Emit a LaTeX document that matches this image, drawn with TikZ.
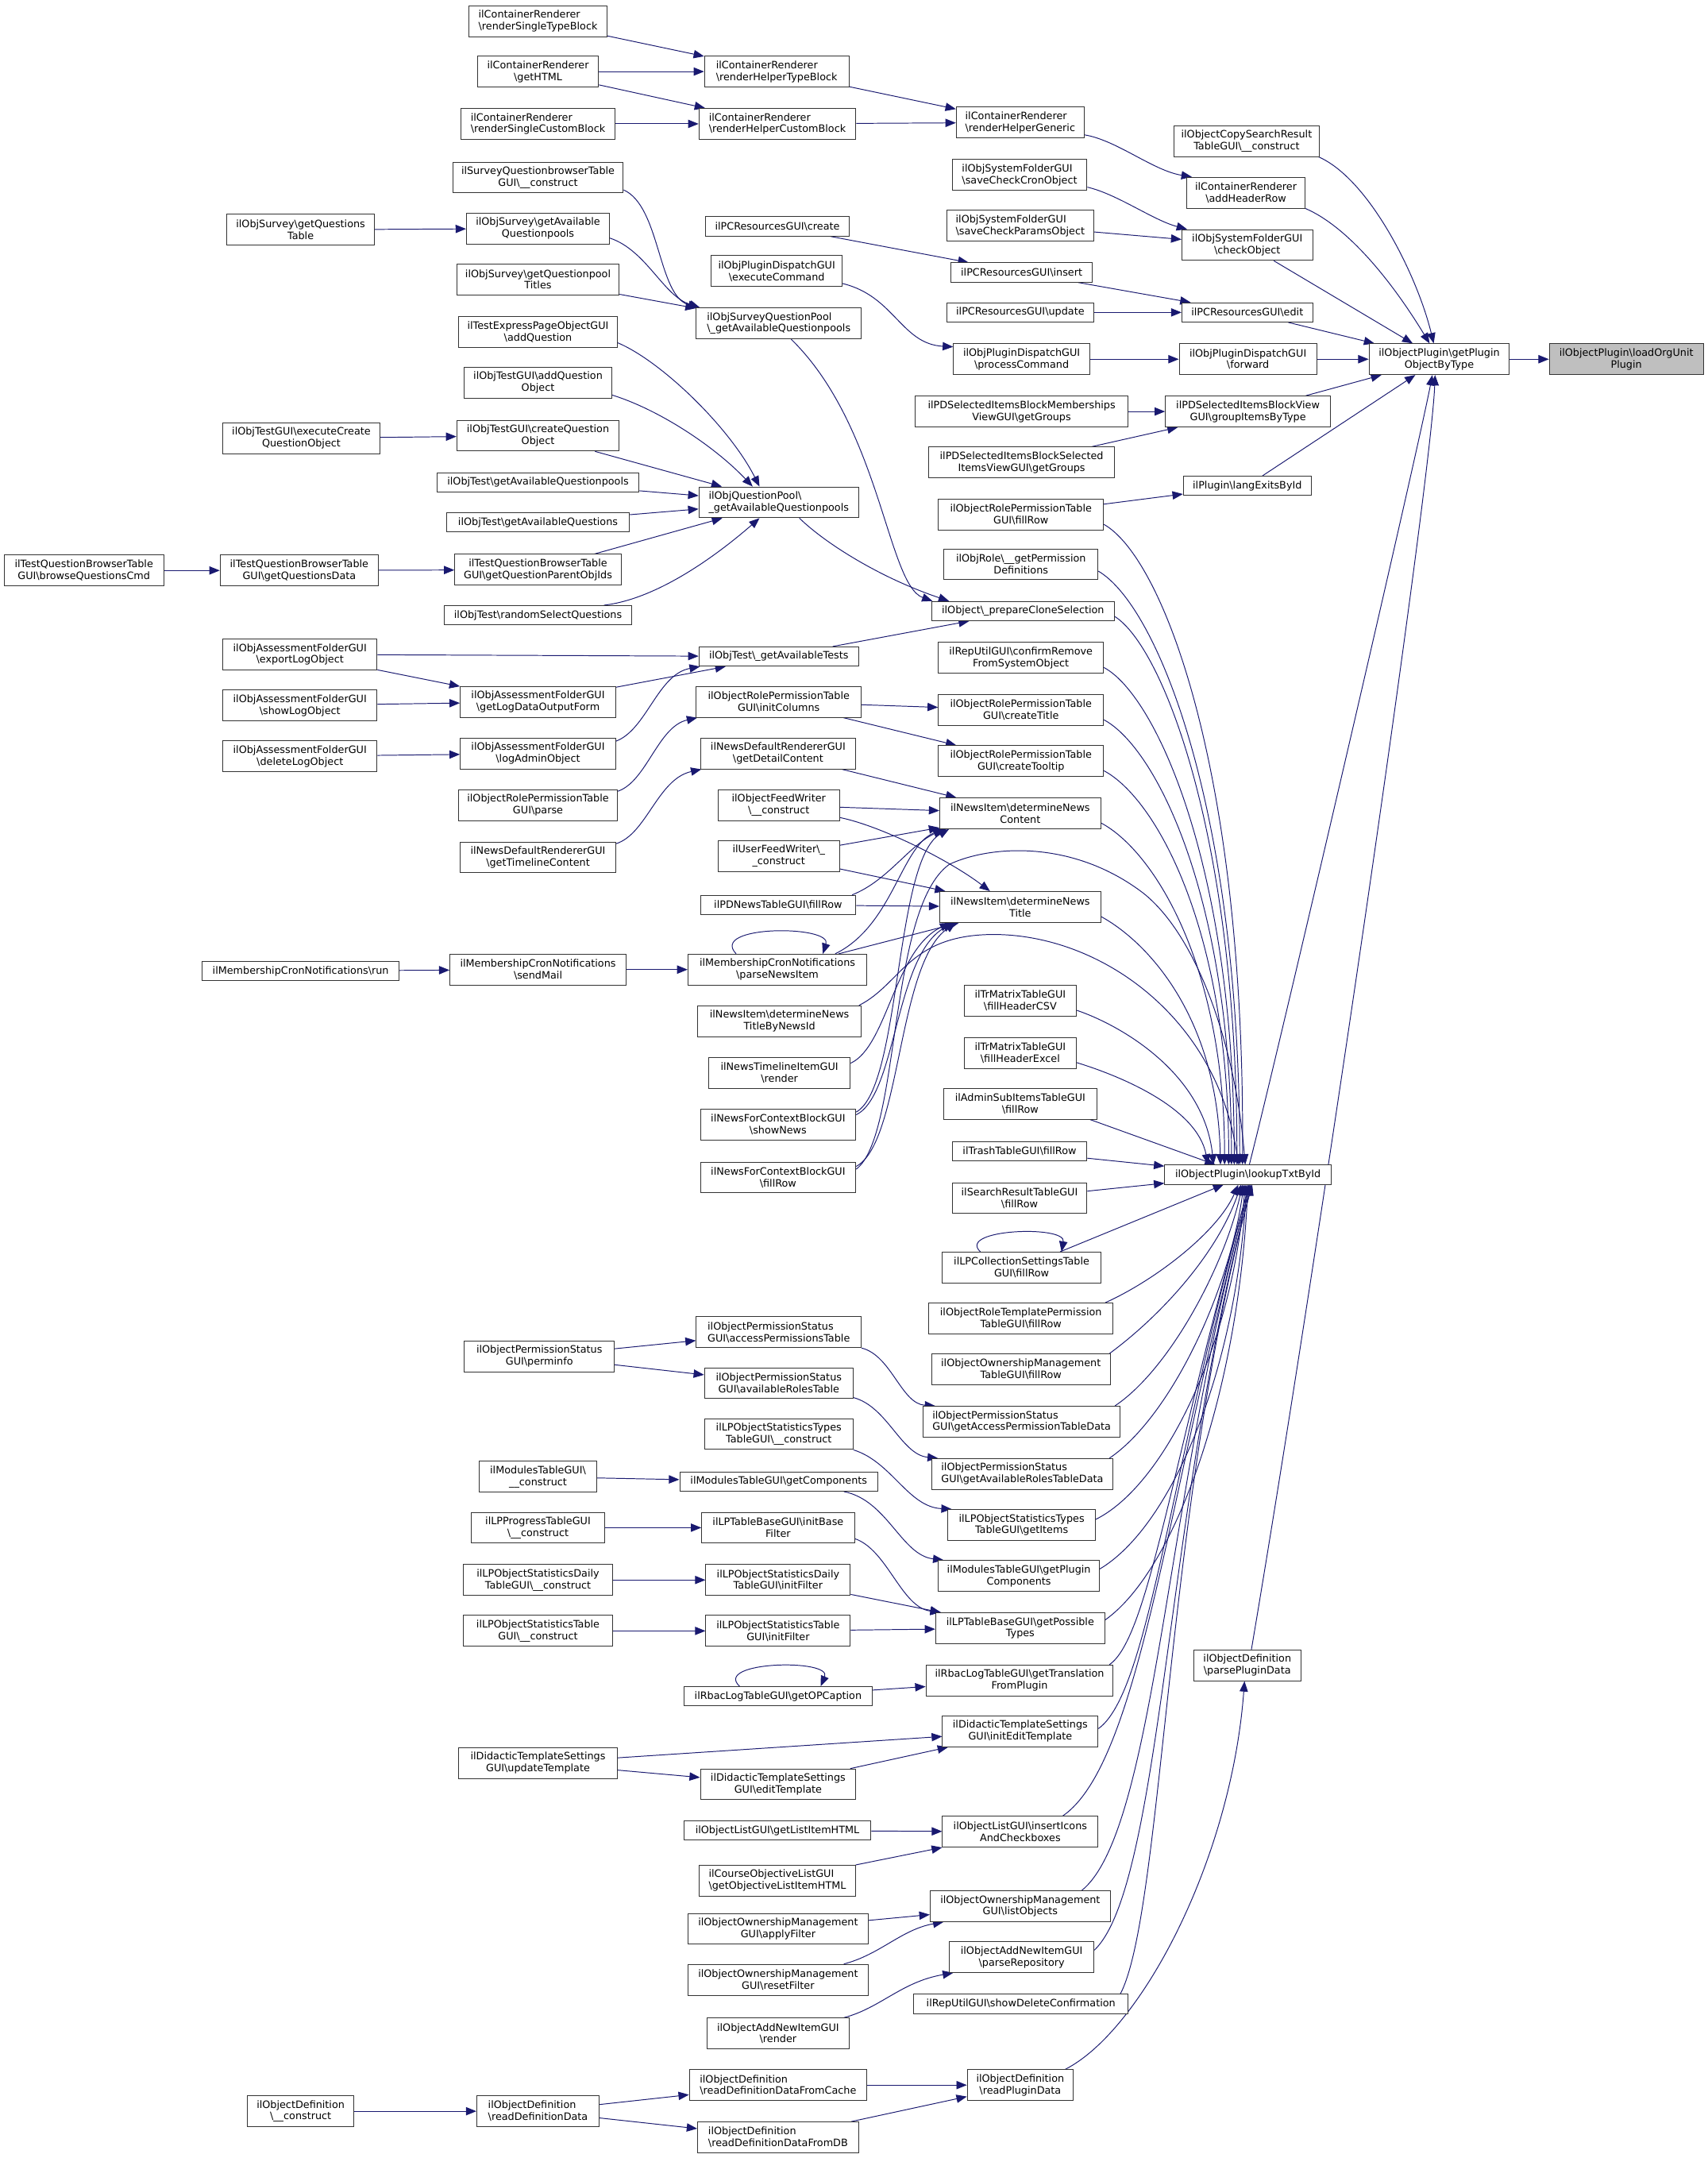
\documentclass[tikz,border=0pt]{standalone}
\usepackage{fontspec}
\usetikzlibrary{arrows.meta,calc,backgrounds}
\newfontfamily\doxfamily{DejaVu Sans}
\newcommand{\bsl}{\textbackslash}
\newcommand{\doxfont}{\doxfamily\fontsize{10.5pt}{12.2pt}\selectfont}
\definecolor{navy}{HTML}{191970}

\begin{document}
\begin{tikzpicture}[x=0.05cm, y=-0.05cm,
    fn/.style={draw=black!80, line width=0.8pt, fill=white, inner sep=0pt, align=center, minimum height=1.12cm, font=\doxfont},
    one/.style={minimum height=0.7cm},
    lft/.style={align=left},
    wd/.style={minimum width=#1*0.05cm},
    focus/.style={fill=black!25},
    calls/.style={draw=navy, line width=0.8pt, -{Triangle[length=0.38cm, width=0.3cm]}}
]
% target and its caller
\node[fn, wd=112, focus] (lou) at (1182,261) {ilObjectPlugin\bsl loadOrgUnit\\Plugin};
\node[fn, wd=102] (gpo) at (1046,261) {ilObjectPlugin\bsl getPlugin\\ObjectByType};

% callers of getPluginObjectByType
\node[fn, wd=106] (ocsConstruct) at (906,102.5) {ilObjectCopySearchResult\\TableGUI\bsl\_\_construct};
\node[fn, wd=86] (crAddHeader) at (905.5,140) {ilContainerRenderer\\\bsl addHeaderRow};
\node[fn, wd=95] (sfCheck) at (906.5,178) {ilObjSystemFolderGUI\\\bsl checkObject};
\node[fn, one, wd=95] (pcrEdit) at (906.5,227) {ilPCResourcesGUI\bsl edit};
\node[fn, wd=100] (pdForward) at (907,261) {ilObjPluginDispatchGUI\\\bsl forward};
\node[fn, wd=120] (pdGroupItems) at (907,299) {ilPDSelectedItemsBlockView\\GUI\bsl groupItemsByType};
\node[fn, one, wd=93] (plLangExists) at (906.5,353) {ilPlugin\bsl langExitsById};
\node[fn, one, wd=121] (lt) at (907,853.5) {ilObjectPlugin\bsl lookupTxtById};
\node[fn, wd=78] (odParsePlugin) at (906.5,1210) {ilObjectDefinition\\\bsl parsePluginData};

% fourth column
\node[fn, lft, wd=93] (crHelperGeneric) at (741.5,89) {ilContainerRenderer\\\bsl renderHelperGeneric};
\node[fn, lft, wd=98] (sfCron) at (741,127) {ilObjSystemFolderGUI\\\bsl saveCheckCronObject};
\node[fn, lft, wd=107] (sfParams) at (741.5,164) {ilObjSystemFolderGUI\\\bsl saveCheckParamsObject};
\node[fn, one, wd=103] (pcrInsert) at (742.5,198) {ilPCResourcesGUI\bsl insert};
\node[fn, one, wd=107] (pcrUpdate) at (741.5,227) {ilPCResourcesGUI\bsl update};
\node[fn, wd=99] (pdProcess) at (742.5,261) {ilObjPluginDispatchGUI\\\bsl processCommand};
\node[fn, wd=155] (pdMemberships) at (742.5,299) {ilPDSelectedItemsBlockMemberships\\ViewGUI\bsl getGroups};
\node[fn, wd=135] (pdSelected) at (742.5,336) {ilPDSelectedItemsBlockSelected\\ItemsViewGUI\bsl getGroups};
\node[fn, wd=120] (rptFillRow) at (742,374) {ilObjectRolePermissionTable\\GUI\bsl fillRow};
\node[fn, wd=112] (orPermDefs) at (742,410) {ilObjRole\bsl\_\_getPermission\\Definitions};
\node[fn, one, wd=133] (oClone) at (743.5,444) {ilObject\bsl\_prepareCloneSelection};
\node[fn, wd=120] (ruConfirm) at (742,478) {ilRepUtilGUI\bsl confirmRemove\\FromSystemObject};
\node[fn, wd=120] (rptTitle) at (742,516) {ilObjectRolePermissionTable\\GUI\bsl createTitle};
\node[fn, wd=120] (rptTooltip) at (742,553) {ilObjectRolePermissionTable\\GUI\bsl createTooltip};
\node[fn, wd=117] (niContent) at (741.5,591) {ilNewsItem\bsl determineNews\\Content};
\node[fn, wd=117] (niTitle) at (741.5,659) {ilNewsItem\bsl determineNews\\Title};
\node[fn, wd=81] (tmCSV) at (741.5,727) {ilTrMatrixTableGUI\\\bsl fillHeaderCSV};
\node[fn, wd=81] (tmExcel) at (741.5,765) {ilTrMatrixTableGUI\\\bsl fillHeaderExcel};
\node[fn, wd=111] (asiFillRow) at (741.5,802) {ilAdminSubItemsTableGUI\\\bsl fillRow};
\node[fn, one, wd=98] (trFillRow) at (741,836.5) {ilTrashTableGUI\bsl fillRow};
\node[fn, wd=98] (srFillRow) at (741,870.5) {ilSearchResultTableGUI\\\bsl fillRow};
\node[fn, wd=115] (lpcFillRow) at (742.5,921) {ilLPCollectionSettingsTable\\GUI\bsl fillRow};
\node[fn, wd=134] (rtpFillRow) at (742,958) {ilObjectRoleTemplatePermission\\TableGUI\bsl fillRow};
\node[fn, wd=130] (omtFillRow) at (742,995) {ilObjectOwnershipManagement\\TableGUI\bsl fillRow};
\node[fn, lft, wd=143] (psAccessData) at (742.5,1033) {ilObjectPermissionStatus\\GUI\bsl getAccessPermissionTableData};
\node[fn, lft, wd=132] (psRolesData) at (743,1071) {ilObjectPermissionStatus\\GUI\bsl getAvailableRolesTableData};
\node[fn, wd=107] (lpTypesItems) at (742.5,1108) {ilLPObjectStatisticsTypes\\TableGUI\bsl getItems};
\node[fn, wd=117] (mtPluginComp) at (740.5,1145) {ilModulesTableGUI\bsl getPlugin\\Components};
\node[fn, wd=123] (lpPossible) at (741.5,1183) {ilLPTableBaseGUI\bsl getPossible\\Types};
\node[fn, wd=136] (rbacTranslation) at (741,1221) {ilRbacLogTableGUI\bsl getTranslation\\FromPlugin};
\node[fn, wd=113] (dtInitEdit) at (741.5,1258) {ilDidacticTemplateSettings\\GUI\bsl initEditTemplate};
\node[fn, wd=113] (olInsertIcons) at (741.5,1331) {ilObjectListGUI\bsl insertIcons\\AndCheckboxes};
\node[fn, wd=131] (omList) at (741.5,1385) {ilObjectOwnershipManagement\\GUI\bsl listObjects};
\node[fn, wd=105] (aniParseRepo) at (742.5,1422) {ilObjectAddNewItemGUI\\\bsl parseRepository};
\node[fn, one, wd=156] (ruDeleteConf) at (742,1456) {ilRepUtilGUI\bsl showDeleteConfirmation};
\node[fn, wd=77] (odReadPlugin) at (741.5,1515) {ilObjectDefinition\\\bsl readPluginData};

% third column
\node[fn, lft, wd=105] (crHelperType) at (564.5,52) {ilContainerRenderer\\\bsl renderHelperTypeBlock};
\node[fn, lft, wd=114] (crHelperCustom) at (565,90) {ilContainerRenderer\\\bsl renderHelperCustomBlock};
\node[fn, one, wd=104] (pcrCreate) at (565,164.5) {ilPCResourcesGUI\bsl create};
\node[fn, wd=95] (pdExecute) at (564.5,197) {ilObjPluginDispatchGUI\\\bsl executeCommand};
\node[fn, lft, wd=120] (sqpAvailPools) at (566,235) {ilObjSurveyQuestionPool\\\bsl\_getAvailableQuestionpools};
\node[fn, lft, wd=116] (qpAvailPools) at (566,365) {ilObjQuestionPool\bsl\\\_getAvailableQuestionpools};
\node[fn, one, wd=116] (otAvailTests) at (566,477) {ilObjTest\bsl\_getAvailableTests};
\node[fn, wd=120] (rptInitCols) at (566,510) {ilObjectRolePermissionTable\\GUI\bsl initColumns};
\node[fn, wd=113] (ndrDetail) at (565.5,547.5) {ilNewsDefaultRendererGUI\\\bsl getDetailContent};
\node[fn, wd=88] (ofwConstruct) at (566,585) {ilObjectFeedWriter\\\bsl\_\_construct};
\node[fn, wd=88] (ufwConstruct) at (566,622) {ilUserFeedWriter\bsl\_\\\_construct};
\node[fn, one, wd=113] (pdnFillRow) at (565.5,657.5) {ilPDNewsTableGUI\bsl fillRow};
\node[fn, wd=130] (mcnParse) at (565,704.5) {ilMembershipCronNotifications\\\bsl parseNewsItem};
\node[fn, wd=119] (niTitleById) at (566.5,742) {ilNewsItem\bsl determineNews\\TitleByNewsId};
\node[fn, wd=103] (ntiRender) at (566.5,779.5) {ilNewsTimelineItemGUI\\\bsl render};
\node[fn, wd=113] (nfcShowNews) at (565.5,817) {ilNewsForContextBlockGUI\\\bsl showNews};
\node[fn, wd=113] (nfcFillRow) at (565.5,855.5) {ilNewsForContextBlockGUI\\\bsl fillRow};
\node[fn, lft, wd=120] (psAccessTable) at (566,968) {ilObjectPermissionStatus\\GUI\bsl accessPermissionsTable};
\node[fn, wd=108] (psRolesTable) at (566,1005) {ilObjectPermissionStatus\\GUI\bsl availableRolesTable};
\node[fn, wd=108] (lpTypesConstruct) at (566,1042) {ilLPObjectStatisticsTypes\\TableGUI\bsl\_\_construct};
\node[fn, one, wd=144] (mtGetComp) at (566,1076.5) {ilModulesTableGUI\bsl getComponents};
\node[fn, wd=111] (lpInitBase) at (565.5,1110) {ilLPTableBaseGUI\bsl initBase\\Filter};
\node[fn, wd=105] (lpDailyInit) at (565.5,1148) {ilLPObjectStatisticsDaily\\TableGUI\bsl initFilter};
\node[fn, wd=105] (lpTableInit) at (565.5,1185) {ilLPObjectStatisticsTable\\GUI\bsl initFilter};
\node[fn, one, wd=137] (rbacCaption) at (565.5,1232.5) {ilRbacLogTableGUI\bsl getOPCaption};
\node[fn, wd=113] (dtEdit) at (565.5,1296.5) {ilDidacticTemplateSettings\\GUI\bsl editTemplate};
\node[fn, one, wd=136] (olListItem) at (565,1330) {ilObjectListGUI\bsl getListItemHTML};
\node[fn, lft, wd=114] (coListItem) at (565,1366.5) {ilCourseObjectiveListGUI\\\bsl getObjectiveListItemHTML};
\node[fn, wd=131] (omApply) at (565.5,1401.5) {ilObjectOwnershipManagement\\GUI\bsl applyFilter};
\node[fn, wd=131] (omReset) at (565.5,1438.5) {ilObjectOwnershipManagement\\GUI\bsl resetFilter};
\node[fn, wd=103] (aniRender) at (565.5,1477.5) {ilObjectAddNewItemGUI\\\bsl render};
\node[fn, lft, wd=129] (odFromCache) at (565.5,1515) {ilObjectDefinition\\\bsl readDefinitionDataFromCache};
\node[fn, lft, wd=117] (odFromDB) at (565.5,1553) {ilObjectDefinition\\\bsl readDefinitionDataFromDB};

% second column
\node[fn, lft, wd=100] (crSingleType) at (391,15.5) {ilContainerRenderer\\\bsl renderSingleTypeBlock};
\node[fn, wd=88] (crHTML) at (391,52) {ilContainerRenderer\\\bsl getHTML};
\node[fn, lft, wd=112] (crSingleCustom) at (391,90) {ilContainerRenderer\\\bsl renderSingleCustomBlock};
\node[fn, wd=124] (sqbConstruct) at (391,129) {ilSurveyQuestionbrowserTable\\GUI\bsl\_\_construct};
\node[fn, wd=104] (svAvailPools) at (391,166) {ilObjSurvey\bsl getAvailable\\Questionpools};
\node[fn, wd=118] (svPoolTitles) at (391,203) {ilObjSurvey\bsl getQuestionpool\\Titles};
\node[fn, wd=115] (tepAddQ) at (391,241) {ilTestExpressPageObjectGUI\\\bsl addQuestion};
\node[fn, wd=107] (tgAddQ) at (391,278) {ilObjTestGUI\bsl addQuestion\\Object};
\node[fn, wd=118] (tgCreateQ) at (391,316.5) {ilObjTestGUI\bsl createQuestion\\Object};
\node[fn, one, wd=147] (otAvailPools) at (391,350.5) {ilObjTest\bsl getAvailableQuestionpools};
\node[fn, one, wd=133] (otAvailQ) at (391,379.5) {ilObjTest\bsl getAvailableQuestions};
\node[fn, wd=121] (tqbParentIds) at (391,414) {ilTestQuestionBrowserTable\\GUI\bsl getQuestionParentObjIds};
\node[fn, one, wd=136] (otRandom) at (391,447) {ilObjTest\bsl randomSelectQuestions};
\node[fn, wd=113] (afLogForm) at (391,510) {ilObjAssessmentFolderGUI\\\bsl getLogDataOutputForm};
\node[fn, wd=113] (afLogAdmin) at (391,547.5) {ilObjAssessmentFolderGUI\\\bsl logAdminObject};
\node[fn, wd=115] (rptParse) at (391,585) {ilObjectRolePermissionTable\\GUI\bsl parse};
\node[fn, wd=113] (ndrTimeline) at (391,623) {ilNewsDefaultRendererGUI\\\bsl getTimelineContent};
\node[fn, wd=128] (mcnSendMail) at (391,704.5) {ilMembershipCronNotifications\\\bsl sendMail};
\node[fn, wd=109] (psPerminfo) at (392,985.5) {ilObjectPermissionStatus\\GUI\bsl perminfo};
\node[fn, wd=85] (mtConstruct) at (391,1073) {ilModulesTableGUI\bsl\\\_\_construct};
\node[fn, wd=97] (lpProgConstruct) at (391,1110) {ilLPProgressTableGUI\\\bsl\_\_construct};
\node[fn, wd=109] (lpDailyConstruct) at (391,1148) {ilLPObjectStatisticsDaily\\TableGUI\bsl\_\_construct};
\node[fn, wd=109] (lpTableConstruct) at (391,1185) {ilLPObjectStatisticsTable\\GUI\bsl\_\_construct};
\node[fn, wd=115] (dtUpdate) at (391,1281) {ilDidacticTemplateSettings\\GUI\bsl updateTemplate};
\node[fn, lft, wd=89] (odReadDef) at (391,1534) {ilObjectDefinition\\\bsl readDefinitionData};

% first columns
\node[fn, wd=107] (svQTable) at (218.5,167) {ilObjSurvey\bsl getQuestions\\Table};
\node[fn, wd=114] (tgExecCreate) at (219,318.5) {ilObjTestGUI\bsl executeCreate\\QuestionObject};
\node[fn, wd=115] (tqbData) at (217.5,414.5) {ilTestQuestionBrowserTable\\GUI\bsl getQuestionsData};
\node[fn, wd=112] (afExport) at (218,475.5) {ilObjAssessmentFolderGUI\\\bsl exportLogObject};
\node[fn, wd=112] (afShow) at (218,512.5) {ilObjAssessmentFolderGUI\\\bsl showLogObject};
\node[fn, wd=112] (afDelete) at (218,549.5) {ilObjAssessmentFolderGUI\\\bsl deleteLogObject};
\node[fn, one, wd=143] (mcnRun) at (218.5,705.5) {ilMembershipCronNotifications\bsl run};
\node[fn, wd=77] (odConstruct) at (218.5,1534) {ilObjectDefinition\\\bsl\_\_construct};
\node[fn, wd=116] (tqbBrowse) at (61,414.5) {ilTestQuestionBrowserTable\\GUI\bsl browseQuestionsCmd};

\begin{pgfonlayer}{background}
\fill[white] (0,0) rectangle (1241,1568);
\useasboundingbox (0,0) rectangle (1241,1568);

% straight calls
\draw[calls] (gpo) -- (lou);
\draw[calls] (pdForward) -- (gpo);
\draw[calls] (sfCheck) -- (gpo);
\draw[calls] (pcrEdit) -- (gpo);
\draw[calls] (pdGroupItems) -- (gpo);
\draw[calls] (plLangExists) -- (gpo);
\draw[calls] (crSingleType) -- (crHelperType);
\draw[calls] (crHTML) -- (crHelperType);
\draw[calls] (crHTML) -- (crHelperCustom);
\draw[calls] (crSingleCustom) -- (crHelperCustom);
\draw[calls] (crHelperType) -- (crHelperGeneric);
\draw[calls] (crHelperCustom) -- (crHelperGeneric);
\draw[calls] (sfParams) -- (sfCheck);
\draw[calls] (pcrCreate) -- (pcrInsert);
\draw[calls] (pcrInsert) -- (pcrEdit);
\draw[calls] (pcrUpdate) -- (pcrEdit);
\draw[calls] (pdProcess) -- (pdForward);
\draw[calls] (pdMemberships) -- (pdGroupItems);
\draw[calls] (pdSelected) -- (pdGroupItems);
\draw[calls] (rptFillRow) -- (plLangExists);
\draw[calls] (svQTable) -- (svAvailPools);
\draw[calls] (svPoolTitles) -- (sqpAvailPools);
\draw[calls] (tgExecCreate) -- (tgCreateQ);
\draw[calls] (tgCreateQ) -- (qpAvailPools);
\draw[calls] (otAvailPools) -- (qpAvailPools);
\draw[calls] (otAvailQ) -- (qpAvailPools);
\draw[calls] (tqbParentIds) -- (qpAvailPools);
\draw[calls] (tqbData) -- (tqbParentIds);
\draw[calls] (tqbBrowse) -- (tqbData);
\draw[calls] (otAvailTests) -- (oClone);
\draw[calls] (afExport) -- (otAvailTests);
\draw[calls] (afExport) -- (afLogForm);
\draw[calls] (afShow) -- (afLogForm);
\draw[calls] (afDelete) -- (afLogAdmin);
\draw[calls] (afLogForm) -- (otAvailTests);
\draw[calls] (rptInitCols) -- (rptTitle);
\draw[calls] (rptInitCols) -- (rptTooltip);
\draw[calls] (ndrDetail) -- (niContent);
\draw[calls] (ofwConstruct) -- (niContent);
\draw[calls] (ufwConstruct) -- (niContent);
\draw[calls] (ufwConstruct) -- (niTitle);
\draw[calls] (pdnFillRow) -- (niTitle);
\draw[calls] (mcnParse) -- (niTitle);
\draw[calls] (mcnRun) -- (mcnSendMail);
\draw[calls] (mcnSendMail) -- (mcnParse);
\draw[calls] (psPerminfo) -- (psAccessTable);
\draw[calls] (psPerminfo) -- (psRolesTable);
\draw[calls] (mtConstruct) -- (mtGetComp);
\draw[calls] (lpProgConstruct) -- (lpInitBase);
\draw[calls] (lpDailyConstruct) -- (lpDailyInit);
\draw[calls] (lpDailyInit) -- (lpPossible);
\draw[calls] (lpTableConstruct) -- (lpTableInit);
\draw[calls] (lpTableInit) -- (lpPossible);
\draw[calls] (rbacCaption) -- (rbacTranslation);
\draw[calls] (dtUpdate) -- (dtInitEdit);
\draw[calls] (dtUpdate) -- (dtEdit);
\draw[calls] (dtEdit) -- (dtInitEdit);
\draw[calls] (olListItem) -- (olInsertIcons);
\draw[calls] (coListItem) -- (olInsertIcons);
\draw[calls] (omApply) -- (omList);
\draw[calls] (odReadDef) -- (odFromCache);
\draw[calls] (odReadDef) -- (odFromDB);
\draw[calls] (odConstruct) -- (odReadDef);
\draw[calls] (odFromCache) -- (odReadPlugin);
\draw[calls] (odFromDB) -- (odReadPlugin);

% curved calls, top part
\draw[calls] ($(crHelperGeneric.east)+(0,9)$) .. controls (812,102) and (838,124) .. ($(crAddHeader.north west)+(4,0)$);
\draw[calls] ($(sfCron.east)+(0,9)$) .. controls (812,141) and (838,160) .. ($(sfCheck.north west)+(4,0)$);
\draw[calls] ($(pdExecute.east)+(0,9)$) .. controls (650,215) and (655,250) .. ($(pdProcess.west)+(0,-9)$);
\draw[calls] ($(ocsConstruct.south east)+(-1,0)$) .. controls (995,130) and (1030,200) .. ($(gpo.north)+(-4,0)$);
\draw[calls] (crAddHeader.south east) .. controls (980,165) and (1012,205) .. ($(gpo.north)+(-7,0)$);
\draw[calls] ($(lt.north)+(1,0)$) .. controls (930,760) and (1030,330) .. ($(gpo.south)+(-5,0)$);
\draw[calls] ($(odParsePlugin.north)+(3,0)$) .. controls (960,900) and (1040,350) .. ($(gpo.south)+(-3,0)$);

% question pools and tests
\draw[calls] ($(sqbConstruct.east)+(0,9)$) .. controls (480,150) and (478,215) .. ($(sqpAvailPools.north west)+(2,0)$);
\draw[calls] ($(svAvailPools.east)+(0,7)$) .. controls (470,182) and (482,215) .. ($(sqpAvailPools.north west)+(3,0)$);
\draw[calls] ($(sqpAvailPools.south)+(9,0)$) .. controls (640,310) and (645,425) .. ($(oClone.north west)+(1,0)$);
\draw[calls] ($(tepAddQ.east)+(0,8)$) .. controls (480,262) and (530,310) .. ($(qpAvailPools.north)+(-14,0)$);
\draw[calls] ($(tgAddQ.east)+(0,9)$) .. controls (480,298) and (520,325) .. ($(qpAvailPools.north)+(-19,0)$);
\draw[calls] ($(otRandom.north)+(48,0)$) .. controls (480,435) and (525,400) .. ($(qpAvailPools.south)+(-14,0)$);
\draw[calls] ($(qpAvailPools.south)+(15,0)$) .. controls (600,395) and (640,420) .. ($(oClone.north west)+(13,0)$);
\draw[calls] ($(afLogAdmin.east)+(0,-9)$) .. controls (470,530) and (478,490) .. ($(otAvailTests.south west)+(1,0)$);
\draw[calls] ($(rptParse.east)+(0,-10)$) .. controls (470,568) and (478,528) .. ($(rptInitCols.south west)+(1,0)$);
\draw[calls] ($(ndrTimeline.east)+(0,-10)$) .. controls (470,606) and (478,566) .. ($(ndrDetail.south west)+(1,0)$);

% news
\draw[calls] ($(ofwConstruct.east)+(0,9)$) .. controls (640,600) and (690,625) .. ($(niTitle.north)+(-22,0)$);
\draw[calls] ($(pdnFillRow.north east)+(-3,0)$) .. controls (645,640) and (660,615) .. ($(niContent.south west)+(3,0)$);
\draw[calls] ($(mcnParse.north)+(42,0)$) .. controls (650,672) and (655,612) .. ($(niContent.south west)+(5,0)$);
\draw[calls] ($(mcnParse.north)+(-30,0)$) .. controls (515,672) and (605,672) .. ($(mcnParse.north)+(33,0)$);
\draw[calls] ($(niTitleById.north east)+(-2,0)$) .. controls (655,715) and (660,680) .. (720,679) .. controls (800,678) and (885,740) .. ($(lt.north)+(-7,0)$);
\draw[calls] ($(ntiRender.east)+(0,-7)$) .. controls (645,760) and (650,690) .. ($(niTitle.south west)+(8,0)$);
\draw[calls] ($(nfcShowNews.east)+(0,-7)$) .. controls (652,795) and (650,695) .. ($(niTitle.south west)+(10,0)$);
\draw[calls] ($(nfcShowNews.east)+(0,-9)$) .. controls (655,790) and (650,625) .. ($(niContent.south west)+(7,0)$);
\draw[calls] ($(nfcFillRow.east)+(0,-8)$) .. controls (655,830) and (652,700) .. ($(niTitle.south west)+(12,0)$);
\draw[calls] ($(nfcFillRow.east)+(0,-6)$) .. controls (655,825) and (645,660) .. (690,628) .. controls (720,614) and (780,610) .. (831,649) .. controls (870,680) and (898,760) .. ($(lt.north)+(-2,0)$);

% permissions, statistics, definitions
\draw[calls] (psAccessTable.south east) .. controls (648,985) and (655,1020) .. ($(psAccessData.north west)+(9,0)$);
\draw[calls] ($(psRolesTable.south east)+(0,-1)$) .. controls (645,1022) and (655,1057) .. ($(psRolesData.north west)+(5,0)$);
\draw[calls] (lpTypesConstruct.south east) .. controls (648,1062) and (660,1095) .. ($(lpTypesItems.north west)+(3,0)$);
\draw[calls] ($(mtGetComp.south east)+(-25,0)$) .. controls (645,1090) and (655,1130) .. ($(mtPluginComp.north west)+(4,0)$);
\draw[calls] ($(lpInitBase.east)+(0,8)$) .. controls (645,1126) and (655,1168) .. ($(lpPossible.north west)+(4,0)$);
\draw[calls] ($(rbacCaption.north)+(-28,0)$) .. controls (518,1207) and (605,1205) .. ($(rbacCaption.north)+(31,0)$);
\draw[calls] ($(omReset.north east)+(-18,0)$) .. controls (640,1420) and (655,1402) .. ($(omList.south west)+(10,0)$);
\draw[calls] ($(aniRender.north east)+(-4,0)$) .. controls (640,1459) and (655,1440) .. ($(aniParseRepo.south west)+(3,0)$);
\draw[calls] ($(odReadPlugin.north east)+(-6,0)$) .. controls (830,1475) and (895,1350) .. ($(odParsePlugin.south)+(-2,0)$);
\draw[calls] ($(lpcFillRow.north)+(-30,0)$) .. controls (695,893) and (775,890) .. ($(lpcFillRow.north)+(29,0)$);

% into lookupTxtById from above
\draw[calls] ($(rptFillRow.east)+(0,7)$) .. controls (845,405) and (905,560) .. ($(lt.north)+(-4,0)$);
\draw[calls] ($(orPermDefs.east)+(0,5)$) .. controls (841,440) and (901,587) .. ($(lt.north)+(-6,0)$);
\draw[calls] ($(oClone.east)+(0,4)$) .. controls (845,470) and (899,607) .. ($(lt.north)+(-8,0)$);
\draw[calls] ($(ruConfirm.east)+(0,7)$) .. controls (840,505) and (897,630) .. ($(lt.north)+(-10,0)$);
\draw[calls] ($(rptTitle.east)+(0,7)$) .. controls (840,543) and (895,652) .. ($(lt.north)+(-12,0)$);
\draw[calls] ($(rptTooltip.east)+(0,7)$) .. controls (840,580) and (893,675) .. ($(lt.north)+(-14,0)$);
\draw[calls] ($(niContent.east)+(0,7)$) .. controls (838,618) and (890,700) .. ($(lt.north)+(-17,0)$);
\draw[calls] ($(niTitle.east)+(0,7)$) .. controls (835,685) and (885,740) .. ($(lt.north)+(-20,0)$);
\draw[calls] ($(tmCSV.east)+(0,7)$) .. controls (815,745) and (875,780) .. ($(lt.north)+(-25,0)$);
\draw[calls] ($(tmExcel.east)+(0,7)$) .. controls (815,782) and (870,805) .. ($(lt.north)+(-29,0)$);
\draw[calls] ($(asiFillRow.south east)+(-5,0)$) -- ($(lt.north west)+(37,0)$);
\draw[calls] (trFillRow) -- (lt);
\draw[calls] (srFillRow) -- (lt);
\draw[calls] (lpcFillRow) -- (lt);

% into lookupTxtById from below
\draw[calls] ($(rtpFillRow.north east)+(-6,0)$) .. controls (840,930) and (885,895) .. ($(lt.south)+(-7,0)$);
\draw[calls] ($(omtFillRow.north east)+(-1,0)$) .. controls (845,955) and (885,910) .. ($(lt.south)+(-5,0)$);
\draw[calls] ($(psAccessData.north east)+(-4,0)$) .. controls (850,995) and (890,920) .. ($(lt.south)+(-4,0)$);
\draw[calls] ($(psRolesData.north east)+(-3,0)$) .. controls (850,1030) and (893,940) .. ($(lt.south)+(-3,0)$);
\draw[calls] ($(lpTypesItems.east)+(0,-4)$) .. controls (845,1080) and (895,980) .. ($(lt.south)+(-2,0)$);
\draw[calls] ($(mtPluginComp.east)+(0,-5)$) .. controls (850,1110) and (898,1000) .. ($(lt.south)+(-1,0)$);
\draw[calls] ($(lpPossible.east)+(0,-6)$) .. controls (855,1140) and (900,1010) .. (lt.south);
\draw[calls] ($(rbacTranslation.north east)+(-3,0)$) .. controls (835,1190) and (852,1060) .. ($(lt.south)+(1,0)$);
\draw[calls] ($(dtInitEdit.east)+(0,-2)$) .. controls (835,1230) and (850,1070) .. ($(lt.south)+(1,0)$);
\draw[calls] ($(olInsertIcons.north east)+(-26,0)$) .. controls (830,1280) and (850,1075) .. ($(lt.south)+(2,0)$);
\draw[calls] ($(omList.north east)+(-21,0)$) .. controls (840,1330) and (848,1080) .. ($(lt.south)+(2,0)$);
\draw[calls] ($(aniParseRepo.east)+(0,-5)$) .. controls (845,1370) and (848,1085) .. ($(lt.south)+(3,0)$);
\draw[calls] ($(ruDeleteConf.north east)+(-6,0)$) .. controls (845,1390) and (848,1090) .. ($(lt.south)+(3,0)$);
\end{pgfonlayer}
\end{tikzpicture}
\end{document}
